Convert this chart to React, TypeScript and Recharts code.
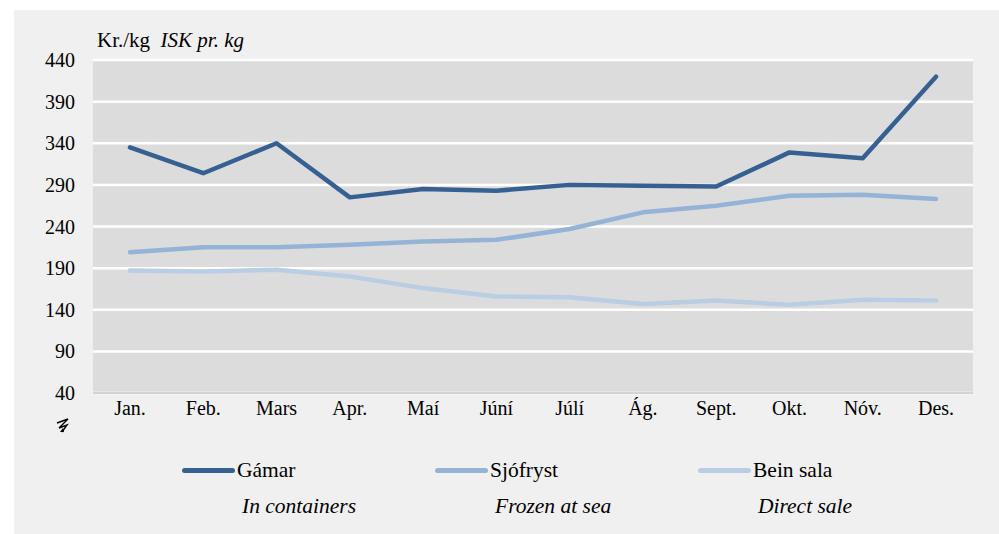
import React from "react"
import { LineChart, Line, XAxis, YAxis, CartesianGrid, Legend } from "recharts"

const months = ["Jan.", "Feb.", "Mars", "Apr.", "Maí", "Júní", "Júlí", "Ág.", "Sept.", "Okt.", "Nóv.", "Des."]
const gamar = [335, 304, 340, 275, 285, 283, 290, 289, 288, 329, 322, 420]
const sjofryst = [209, 215, 215, 218, 222, 224, 237, 257, 265, 277, 278, 273]
const beinSala = [187, 186, 188, 180, 166, 156, 155, 147, 151, 146, 152, 151]
const yTicks = [40, 90, 140, 190, 240, 290, 340, 390, 440]

const seriesInfo = [
  { key: "gamar", name: "Gámar", en: "In containers", color: "#376092" },
  { key: "sjofryst", name: "Sjófryst", en: "Frozen at sea", color: "#95b3d7" },
  { key: "bein", name: "Bein sala", en: "Direct sale", color: "#b9cde5" },
]

const data = months.map((m, i) => ({
  month: m,
  gamar: gamar[i],
  sjofryst: sjofryst[i],
  bein: beinSala[i],
}))

const font = "Liberation Serif, DejaVu Serif, serif"

const legendX = [182, 435, 698]

function LegendBox() {
  return (
    <div style={{ position: "relative", width: 999, height: 70, fontFamily: font, fontSize: 21.5, color: "#000" }}>
      {seriesInfo.map((s, i) => (
        <React.Fragment key={s.key}>
          <div
            style={{
              position: "absolute",
              left: legendX[i],
              top: 9,
              width: 53,
              height: 5,
              borderRadius: 3,
              background: s.color,
            }}
          />
          <div style={{ position: "absolute", left: legendX[i] + 55, top: -1, lineHeight: "24px" }}>{s.name}</div>
          <div style={{ position: "absolute", left: legendX[i] + 60, top: 35, lineHeight: "24px", fontStyle: "italic" }}>
            {s.en}
          </div>
        </React.Fragment>
      ))}
    </div>
  )
}

export default function App() {
  return (
    <div style={{ position: "absolute", left: 0, top: 0, width: 999, height: 534, background: "#fff" }}>
      <div style={{ position: "absolute", left: 14, top: 10, width: 985, height: 524, background: "#f0f0f0" }} />
      <div
        style={{
          position: "absolute",
          left: 97,
          top: 28,
          fontFamily: font,
          fontSize: 21,
          color: "#000",
          whiteSpace: "pre",
        }}
      >
        Kr./kg  <i>ISK pr. kg</i>
      </div>
      <svg style={{ position: "absolute", left: 55, top: 417 }} width={16} height={18}>
        <path d="M2 6 L13 2 L4 11 L12 8 L7 15" fill="none" stroke="#000" strokeWidth={1.4} />
        <path d="M5 15 L9 15 L8 11 Z" fill="#000" />
      </svg>
      <div style={{ position: "absolute", left: 0, top: 0 }}>
        <LineChart width={999} height={534} data={data} margin={{ top: 60, right: 26, left: 43, bottom: 31 }}>
          <CartesianGrid fill="#dcdcdc" vertical={false} stroke="#ffffff" strokeWidth={2.5} strokeOpacity={1} />
          <XAxis
            dataKey="month"
            interval={0}
            padding={{ left: 37, right: 37 }}
            axisLine={{ stroke: "#c4c4c4", strokeWidth: 1.5 }}
            tickLine={false}
            tickSize={0}
            tickMargin={8}
            height={30}
            tick={{ fill: "#000", fontSize: 20, fontFamily: font }}
          />
          <YAxis
            domain={[40, 440]}
            ticks={yTicks}
            interval={0}
            width={50}
            axisLine={false}
            tickLine={false}
            tickSize={0}
            tickMargin={18}
            tick={{ fill: "#000", fontSize: 20, fontFamily: font }}
          />
          <Legend
            verticalAlign="bottom"
            wrapperStyle={{ left: 0, width: 999, top: 459, bottom: "auto" }}
            content={() => <LegendBox />}
            height={80}
          />
          {seriesInfo.map((s) => (
            <Line
              key={s.key}
              type="linear"
              dataKey={s.key}
              name={s.name}
              stroke={s.color}
              strokeWidth={4.5}
              strokeLinecap="round"
              strokeLinejoin="round"
              dot={false}
              activeDot={false}
              isAnimationActive={false}
            />
          ))}
        </LineChart>
      </div>
    </div>
  )
}
